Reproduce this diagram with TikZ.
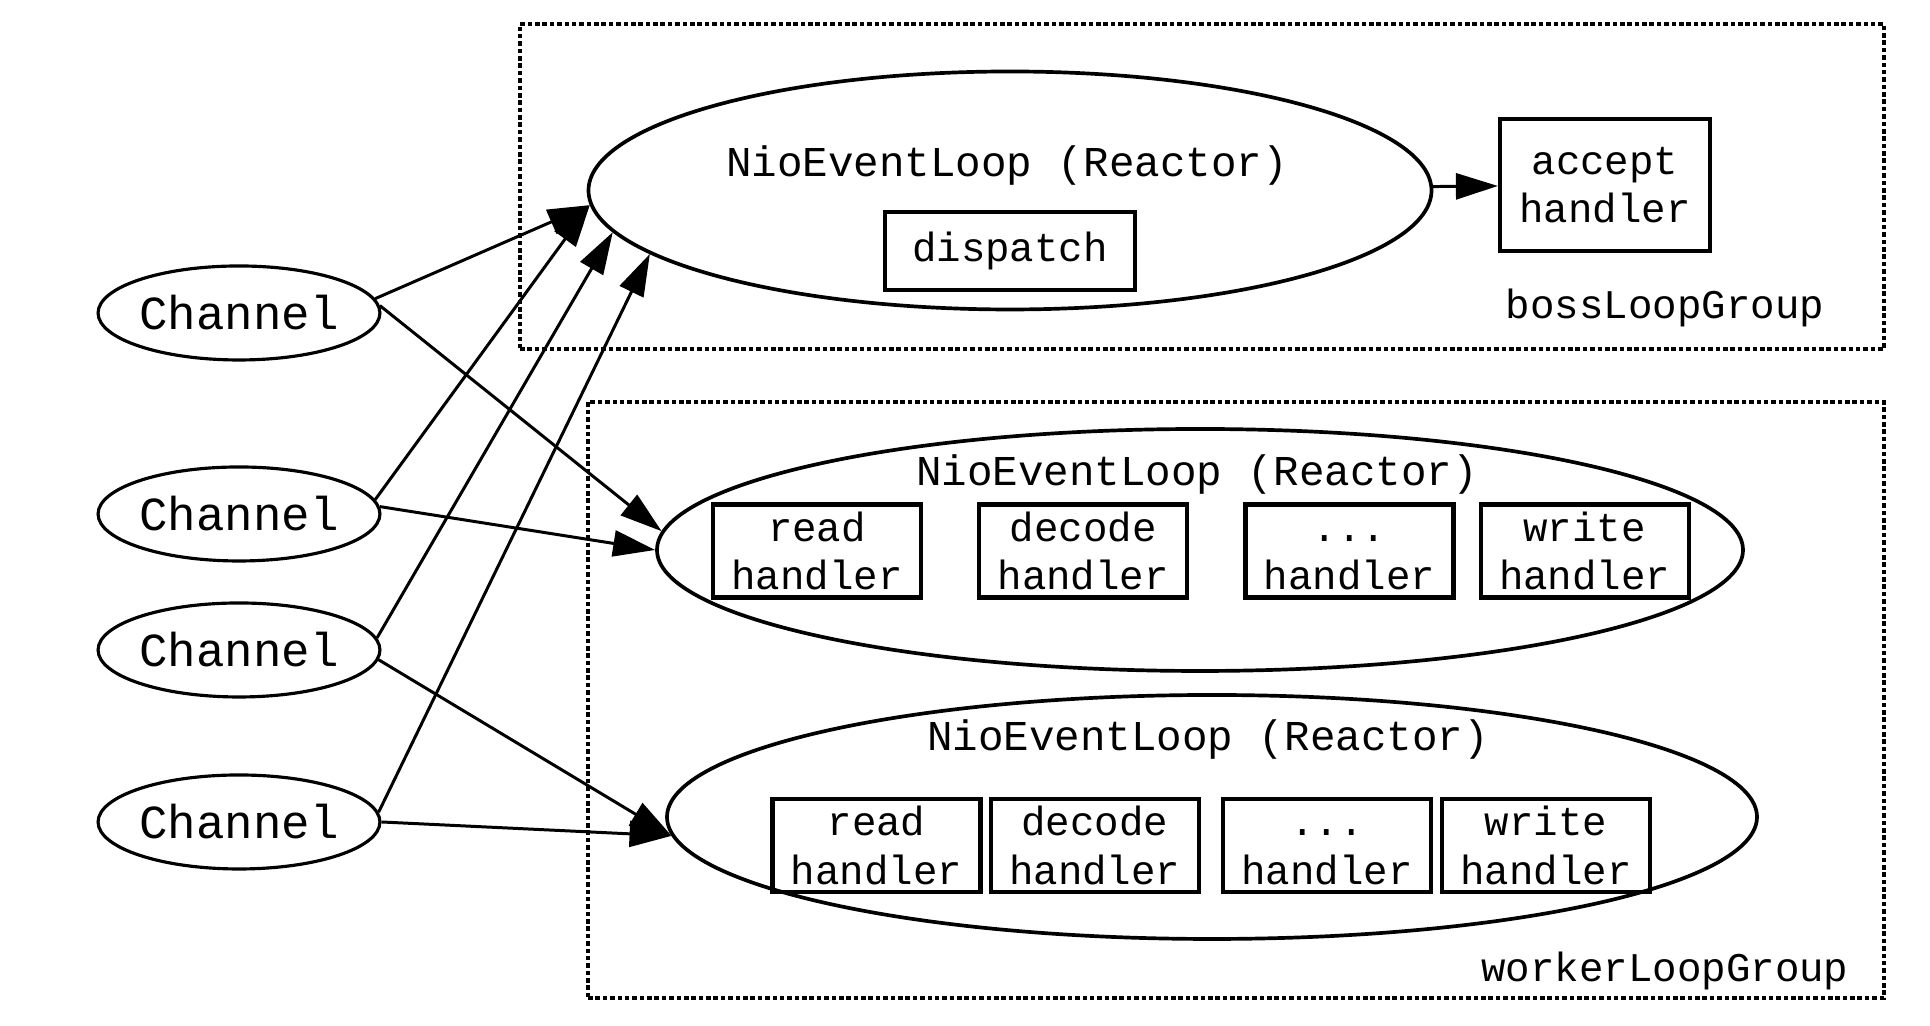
\documentclass[tikz,border=0pt]{standalone}
\usepackage{fontspec}
\setmonofont{Liberation Mono}
\usetikzlibrary{arrows.meta,positioning,shapes.geometric}

\begin{document}
\begin{tikzpicture}[
  node distance=5mm,
  txt/.style={font=\ttfamily\fontsize{11.6}{13.8}\selectfont, align=center, inner sep=0pt},
  title/.style={txt, font=\ttfamily\fontsize{12.1}{14}\selectfont},
  chan/.style={draw, ellipse, line width=0.9pt, minimum width=2.74cm, minimum height=0.94cm, inner sep=0pt, font=\ttfamily\fontsize{13.5}{15}\selectfont},
  reactor/.style={draw, ellipse, line width=1.05pt, inner sep=0pt},
  handler/.style={txt, draw, line width=1.2pt, minimum width=2.08cm, minimum height=0.93cm},
  grp/.style={draw, line width=0.95pt, dash pattern=on 1.3pt off 0.8pt, inner sep=0pt},
  arr/.style={-{Triangle[length=4.2mm, width=2.6mm]}, line width=0.85pt}
]
  \useasboundingbox (0,0) rectangle (19.30,10.26);

  % loop groups
  \node[grp, minimum width=13.64cm, minimum height=3.25cm] (bossGrp) at (12.02,8.395) {};
  \node[grp, minimum width=12.96cm, minimum height=5.96cm] (workerGrp) at (12.36,3.26) {};
  \node[txt] (bossLbl) at (16.65,7.18) {bossLoopGroup};
  \node[txt] (workerLbl) at (16.65,0.55) {workerLoopGroup};

  % boss reactor
  \node[reactor, minimum width=8.43cm, minimum height=2.38cm] (boss) at (10.10,8.355) {};
  \node[title] (bossTitle) at (10.07,8.60) {NioEventLoop (Reactor)};
  \node[handler, minimum width=2.50cm, minimum height=0.78cm] (dispatch) at (10.10,7.75) {dispatch};
  \node[handler, minimum width=2.10cm, minimum height=1.32cm] (accept) at (16.05,8.41) {accept\\handler};

  % worker reactors
  \node[reactor, minimum width=10.86cm, minimum height=2.42cm] (w1) at (12.00,4.76) {};
  \node[title] (w1Title) at (11.97,5.51) {NioEventLoop (Reactor)};
  \node[handler] (read1) at (8.17,4.75) {read\\handler};
  \node[handler, right=0.54cm of read1] (decode1) {decode\\handler};
  \node[handler, right=0.54cm of decode1] (etc1) {\vphantom{d}...\\handler};
  \node[handler, right=0.23cm of etc1] (write1) {write\\handler};

  \node[reactor, minimum width=10.90cm, minimum height=2.44cm] (w2) at (12.12,2.09) {};
  \node[title] (w2Title) at (12.08,2.86) {NioEventLoop (Reactor)};
  \node[handler] (read2) at (8.765,1.805) {read\\handler};
  \node[handler, right=0.06cm of read2] (decode2) {decode\\handler};
  \node[handler, right=0.20cm of decode2] (etc2) {\vphantom{d}...\\handler};
  \node[handler, right=0.07cm of etc2] (write2) {write\\handler};

  % channels
  \node[chan] (ch1) at (2.39,7.13) {Channel};
  \node[chan] (ch2) at (2.39,5.12) {Channel};
  \node[chan] (ch3) at (2.39,3.76) {Channel};
  \node[chan] (ch4) at (2.39,2.04) {Channel};

  \draw[arr] (ch1.6) -- (boss.182);
  \draw[arr] (ch1.3) -- (w1.178.5);
  \draw[arr] (ch2.6) -- (boss.182);
  \draw[arr] (ch2.3) -- (w1.180.5);
  \draw[arr] (ch3.5) -- (boss.186.6);
  \draw[arr] (ch3.-4) -- (w2.182.7);
  \draw[arr] (ch4.4) -- (boss.190.2);
  \draw[arr] (ch4.0) -- (w2.182.7);
  \draw[arr] (boss) -- (accept);
\end{tikzpicture}
\end{document}
